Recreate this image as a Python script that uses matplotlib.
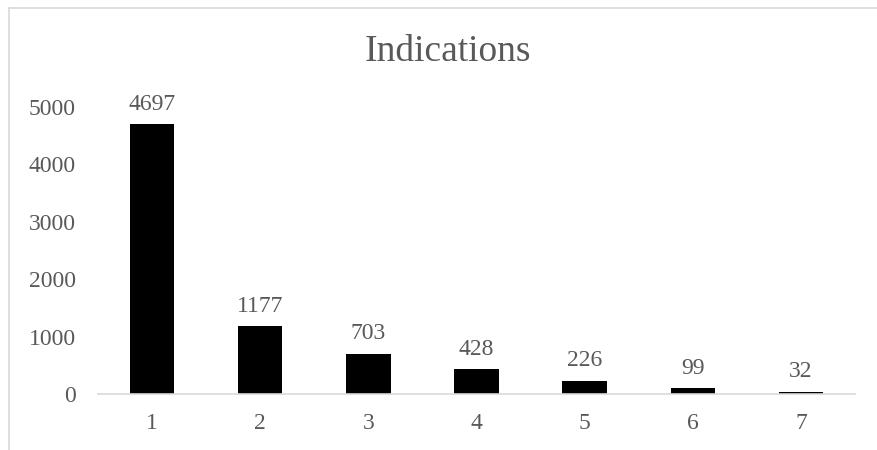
import matplotlib
matplotlib.use('Agg')
import matplotlib.pyplot as plt
from matplotlib.lines import Line2D

# chart data
categories = ['1', '2', '3', '4', '5', '6', '7']
counts = [4697, 1177, 703, 428, 226, 99, 32]
yticks = [0, 1000, 2000, 3000, 4000, 5000]

text_color = '#595959'
plt.rcParams['font.family'] = ['Liberation Serif', 'DejaVu Serif']

fig = plt.figure(figsize=(8.78, 4.5), dpi=100)
ax = fig.add_axes([98 / 878, 1 - 394 / 450, 757 / 878, 287 / 450])

bars = ax.bar(range(len(categories)), counts, width=0.41, color='black')
ax.bar_label(bars, labels=[str(c) for c in counts], padding=7,
             fontsize=17, color=text_color)

ax.set_xlim(-0.5, len(categories) - 0.5)
ax.set_ylim(0, 5000)
ax.set_xticks(range(len(categories)))
ax.set_xticklabels(categories)
ax.set_yticks(yticks)
ax.tick_params(axis='both', length=0, labelsize=17, labelcolor=text_color)
ax.tick_params(axis='x', pad=14)
ax.tick_params(axis='y', pad=16)

for side in ['top', 'right', 'left']:
    ax.spines[side].set_visible(False)
ax.spines['bottom'].set_color('#d9d9d9')
ax.spines['bottom'].set_linewidth(1.2)

fig.text(448 / 878, 1 - 52 / 450, 'Indications', ha='center', va='center',
         fontsize=27, color=text_color)

# chart area border (left and top edges visible)
fig.add_artist(Line2D([9 / 878, 9 / 878], [0, 1 - 8 / 450],
                      transform=fig.transFigure, color='#d9d9d9', lw=1.2))
fig.add_artist(Line2D([9 / 878, 1], [1 - 8 / 450, 1 - 8 / 450],
                      transform=fig.transFigure, color='#d9d9d9', lw=1.2))

fig.savefig('out.png', dpi=100)
